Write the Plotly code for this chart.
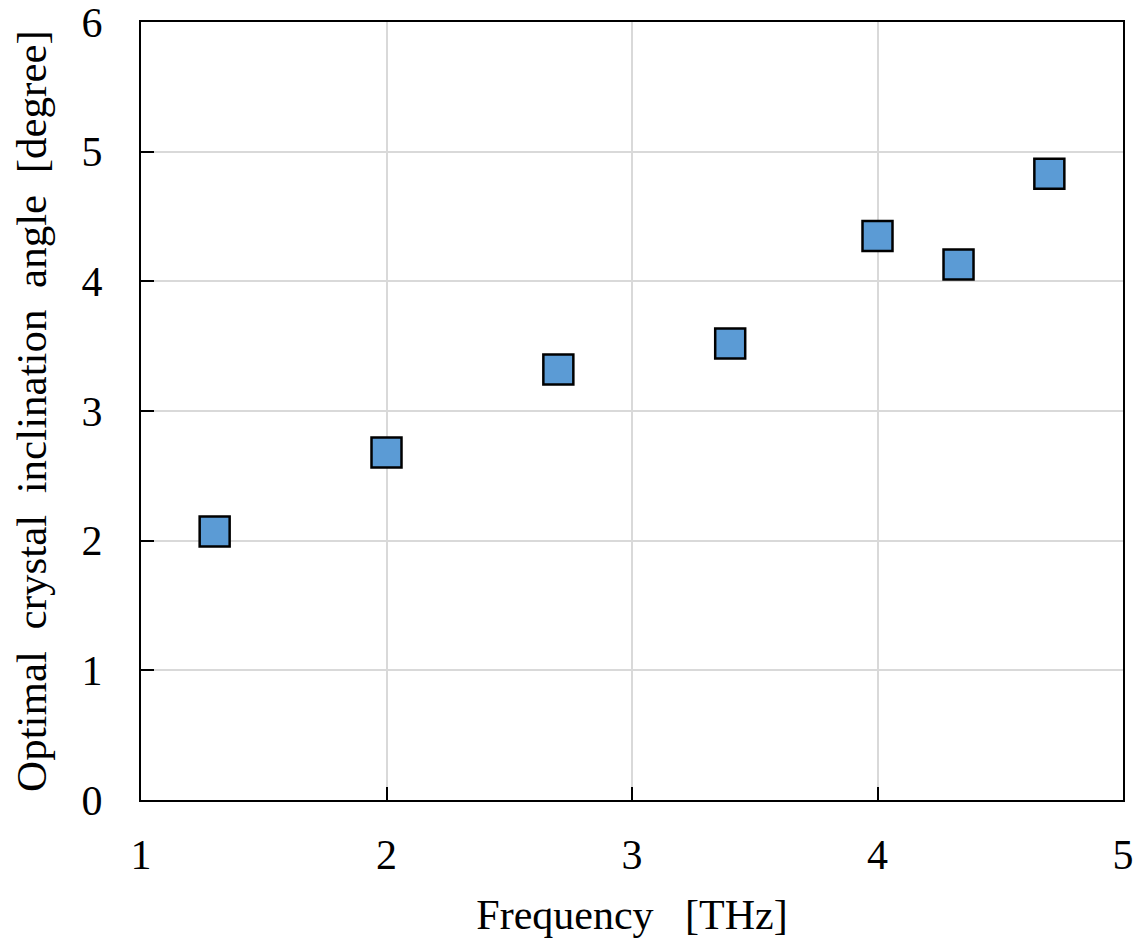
import plotly.graph_objects as go

freq = [1.3, 2.0, 2.7, 3.4, 4.0, 4.33, 4.7]
angle = [2.07, 2.68, 3.32, 3.52, 4.35, 4.13, 4.83]

font_family = "Liberation Serif, Times New Roman, serif"

fig = go.Figure()
fig.add_trace(go.Scatter(
    x=freq, y=angle, mode="markers",
    marker=dict(symbol="square", size=30, color="#5B9BD5",
                line=dict(color="black", width=2.5)),
    showlegend=False,
))

fig.update_layout(
    width=1139, height=948,
    margin=dict(l=141, r=16, t=22, b=148),
    paper_bgcolor="white", plot_bgcolor="white",
    font=dict(family=font_family, size=42, color="black"),
)
fig.update_xaxes(
    range=[1, 5], dtick=1, tick0=1,
    automargin=False, ticklabeloverflow="allow",
    showgrid=True, gridcolor="#d9d9d9", gridwidth=2,
    showline=True, linecolor="black", linewidth=2, mirror=True,
    ticks="inside", ticklen=13, tickwidth=2, tickcolor="black",
    ticklabelstandoff=17,
    zeroline=False,
    title=dict(text="Frequency\u00a0\u00a0\u00a0[THz]", standoff=22, font=dict(size=42)),
)
fig.update_yaxes(
    range=[0, 6], dtick=1,
    automargin=False, ticklabeloverflow="allow",
    showgrid=True, gridcolor="#d9d9d9", gridwidth=2,
    showline=True, linecolor="black", linewidth=2, mirror=True,
    ticks="inside", ticklen=13, tickwidth=2, tickcolor="black",
    ticklabelstandoff=28,
    zeroline=False,
    title=dict(text="Optimal\u00a0\u00a0crystal\u00a0\u00a0inclination\u00a0\u00a0angle\u00a0\u00a0[degree]",
               standoff=22, font=dict(size=43)),
)

fig.write_html("out.html")
